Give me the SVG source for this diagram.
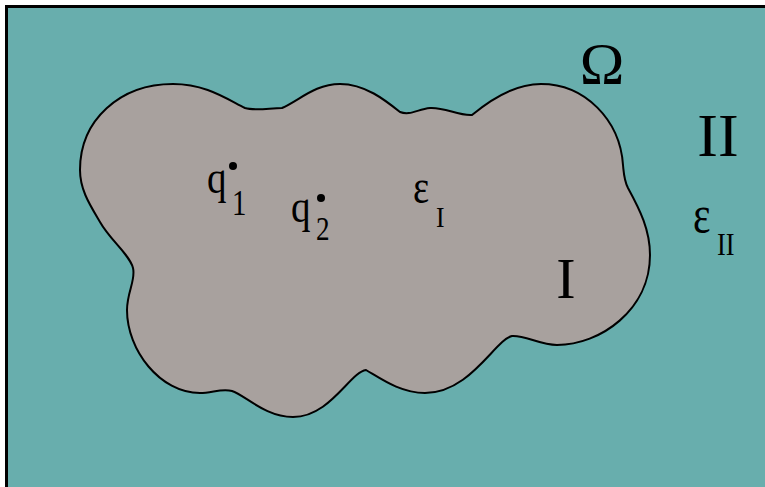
<svg xmlns="http://www.w3.org/2000/svg" width="765" height="487" viewBox="0 0 765 487">
<style>
text{font-family:"Liberation Serif","Times New Roman",serif;fill:#000}
</style>
<rect width="765" height="487" fill="#fff"/>
<g id="region-II">
<rect x="6.5" y="6.5" width="800" height="520" fill="#68AEAD" stroke="#000" stroke-width="3"/>
</g>
<g id="region-I">
<path d="M80,170 C80,120 120,84 173,84 C205,84 225,98 245,108 C255,111 270,108 282,108 C300,100 315,84 340,84 C365,84 385,100 400,112 C410,116 418,109 430,108 C445,107 458,116 472,115 C490,100 515,84 541,84 C585,84 620,120 623,165 C624,175 624,180 628,188 C640,210 650,230 650,255 C650,310 600,345 557,345 C540,345 525,335 512,336 C495,340 470,393 425,393 C400,393 380,378 366,370 C350,372 330,417 293,417 C265,417 245,395 232,391 C222,388 212,393 200,393 C160,393 127,350 127,310 C127,292 136,280 133,268 C130,255 110,240 100,222 C90,205 80,190 80,170 Z" fill="#A8A19E" stroke="#000" stroke-width="2"/>
</g>
<g id="labels">
<text x="602" y="84" font-size="60" text-anchor="middle">Ω</text>
<text x="718" y="156" font-size="62" text-anchor="middle">II</text>
<text x="566" y="298" font-size="58" text-anchor="middle">I</text>
<text transform="translate(207,193) scale(0.85,1)" font-size="46">q</text>
<text transform="translate(232,215) scale(0.8,1)" font-size="36">1</text>
<circle cx="233" cy="166" r="4"/>
<text transform="translate(291,222) scale(0.85,1)" font-size="46">q</text>
<text transform="translate(316,240) scale(0.8,1)" font-size="34">2</text>
<circle cx="321" cy="198" r="4"/>
<text transform="translate(413,203) scale(0.8,1)" font-size="48">ε</text>
<text transform="translate(436,227) scale(0.85,1)" font-size="30">I</text>
<text transform="translate(693,232) scale(0.8,1)" font-size="52">ε</text>
<text transform="translate(717,255) scale(0.85,1)" font-size="31">II</text>
</g>
</svg>
